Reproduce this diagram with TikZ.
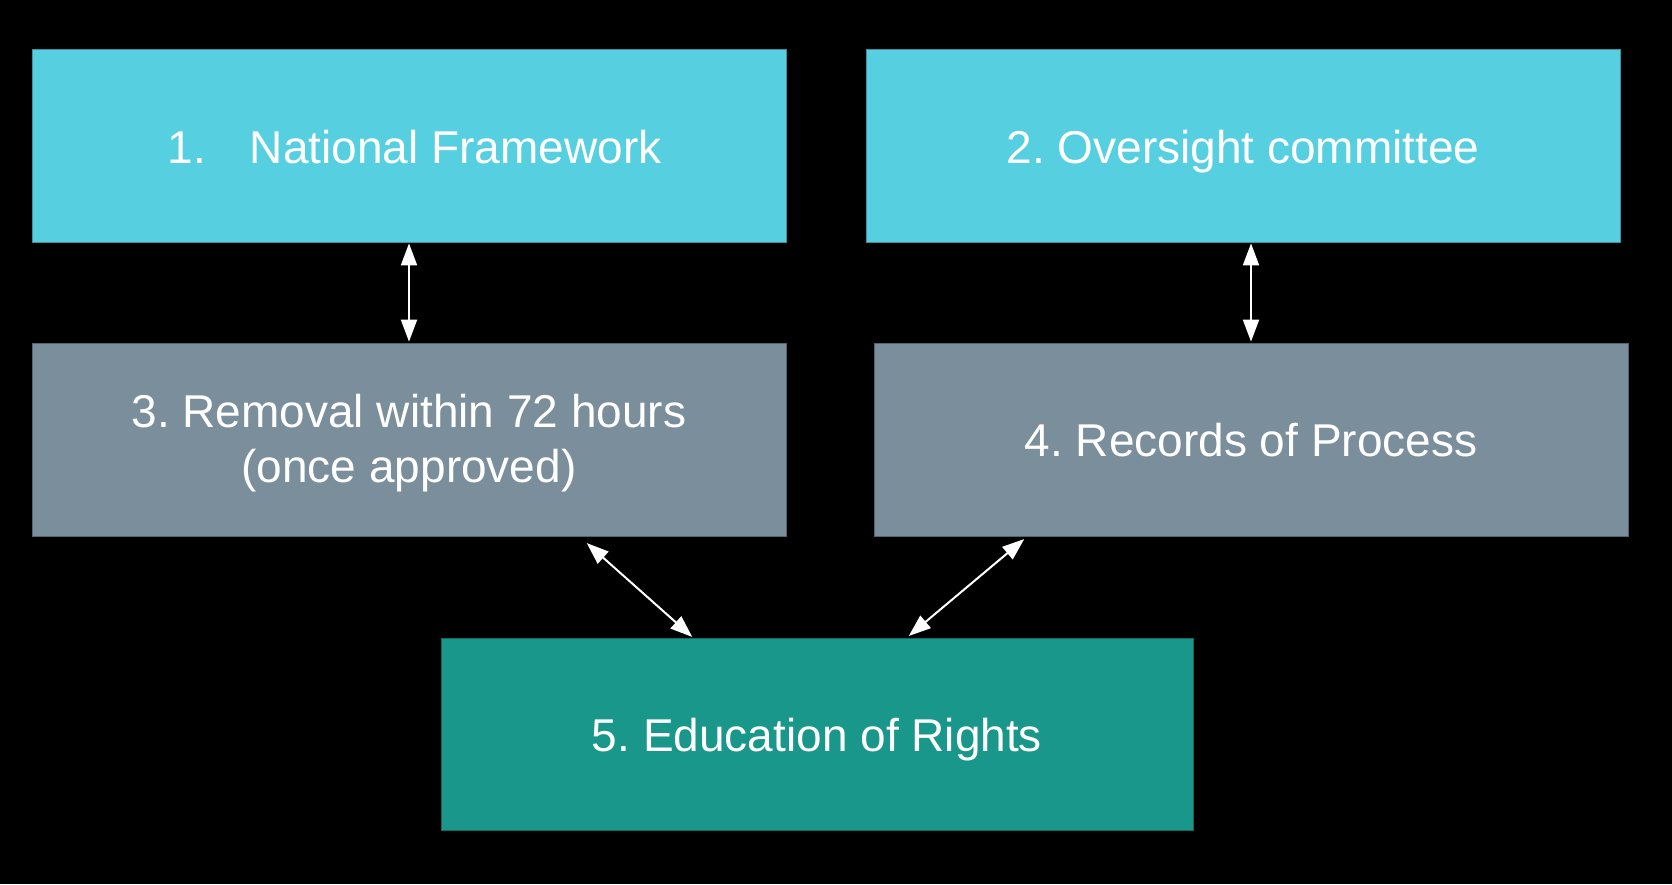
\documentclass[tikz,border=0pt]{standalone}
\usepackage{fontspec}
\setmainfont{Liberation Sans}
\usetikzlibrary{arrows.meta}
\frenchspacing
\definecolor{cyanbox}{HTML}{56CFE0}
\definecolor{graybox}{HTML}{7A8F9B}
\definecolor{tealbox}{HTML}{18978A}
\newcommand{\dn}[2]{\raisebox{-#1}[\height][\depth]{#2}}
\tikzset{
  box/.style={rectangle, minimum width=754pt, minimum height=193pt, inner sep=0pt,
    text=white, align=center, font=\fontsize{46}{55}\selectfont, line width=0.8pt},
  cbox/.style={box, fill=cyanbox, draw=cyanbox!70!black},
  gbox/.style={box, fill=graybox, draw=graybox!70!black},
  tbox/.style={box, fill=tealbox, draw=tealbox!70!black},
  link/.style={draw=white, line width=2pt, {Triangle[length=22pt,width=16pt]}-{Triangle[length=22pt,width=16pt]}, shorten <=1pt, shorten >=1pt}
}
\begin{document}
\begin{tikzpicture}[x=1pt,y=-1pt]
\fill[black] (0,0) rectangle (1672,884);
\useasboundingbox (0,0) rectangle (1672,884);
\node[cbox] (b1) at (409,145.5) {\dn{2pt}{\hspace*{11pt}1.\hspace{44pt}National Framework}};
\node[cbox] (b2) at (1243,145.5) {\dn{6pt}{2. Oversight committee}};
\node[gbox] (b3) at (409,439.5) {\dn{4pt}{\begin{tabular}{@{}c@{}}3. Removal within 72 hours\\(once approved)\end{tabular}}};
\node[gbox] (b4) at (1251,439.5) {\dn{1pt}{4. Records of Process}};
\node[tbox, minimum width=752pt, minimum height=192pt] (b5) at (817,734) {\dn{6pt}{5. Education of Rights}};
\draw[link] (b1.south) -- (b3.north);
\draw[link] (b4.north |- b2.south) -- (b4.north);
\draw[link] ([xshift=177pt,yshift=-6pt]b3.south) -- ([xshift=-124pt]b5.north);
\draw[link] ([xshift=-226pt,yshift=-2pt]b4.south) -- ([xshift=91pt,yshift=1pt]b5.north);
\end{tikzpicture}
\end{document}
